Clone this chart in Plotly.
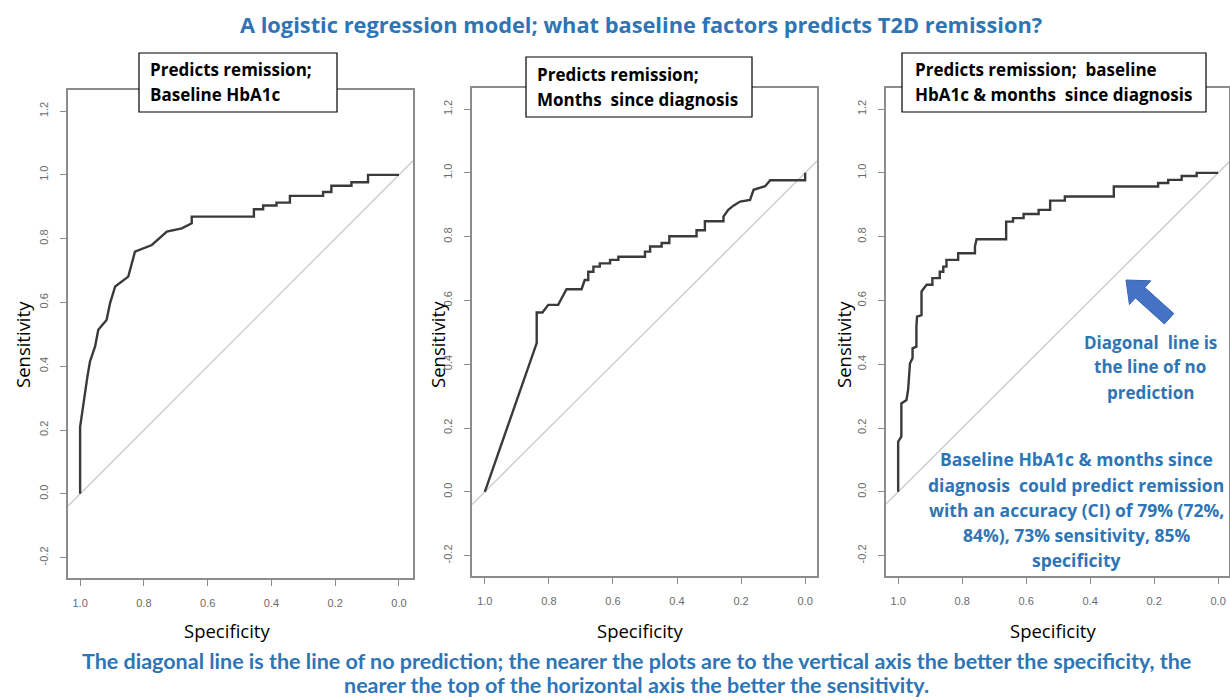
import math
import plotly.graph_objects as go

W, H = 1230, 700
BLUE = '#2E75B6'

# ROC curves (specificity, sensitivity)
spec_hba1c = [1.0, 1.0, 0.977, 0.969, 0.953, 0.943, 0.917, 0.906, 0.890, 0.849, 0.828, 0.775,
              0.728, 0.681, 0.650, 0.650, 0.455, 0.455, 0.426, 0.426, 0.384, 0.384, 0.342,
              0.342, 0.238, 0.238, 0.212, 0.212, 0.149, 0.149, 0.097, 0.097, 0.0]
sens_hba1c = [0.0, 0.21, 0.368, 0.415, 0.462, 0.514, 0.545, 0.598, 0.650, 0.681, 0.759, 0.780,
              0.822, 0.832, 0.848, 0.869, 0.869, 0.892, 0.892, 0.904, 0.904, 0.913, 0.913,
              0.934, 0.934, 0.946, 0.946, 0.966, 0.966, 0.977, 0.977, 1.0, 1.0]

spec_months = [1.0, 0.838, 0.838, 0.820, 0.802, 0.771, 0.745, 0.698, 0.688, 0.677, 0.677, 0.661,
               0.661, 0.641, 0.641, 0.609, 0.609, 0.583, 0.583, 0.500, 0.500, 0.484, 0.484,
               0.448, 0.448, 0.424, 0.424, 0.339, 0.339, 0.313, 0.313, 0.255, 0.255, 0.240,
               0.224, 0.203, 0.172, 0.161, 0.125, 0.109, 0.0, 0.0]
sens_months = [0.0, 0.466, 0.562, 0.562, 0.586, 0.586, 0.635, 0.635, 0.664, 0.664, 0.690, 0.690,
               0.706, 0.706, 0.716, 0.716, 0.727, 0.727, 0.737, 0.737, 0.753, 0.753, 0.769,
               0.769, 0.780, 0.780, 0.801, 0.801, 0.820, 0.820, 0.848, 0.848, 0.863, 0.884,
               0.897, 0.910, 0.915, 0.947, 0.958, 0.977, 0.977, 1.0]

spec_both = [1.0, 1.0, 0.99, 0.99, 0.974, 0.969, 0.963, 0.955, 0.955, 0.943, 0.943, 0.941, 0.927,
             0.927, 0.911, 0.893, 0.893, 0.870, 0.870, 0.859, 0.859, 0.849, 0.849, 0.8125,
             0.8125, 0.760, 0.760, 0.755, 0.6625, 0.6625, 0.641, 0.641, 0.608, 0.608, 0.561,
             0.561, 0.525, 0.525, 0.479, 0.479, 0.326, 0.326, 0.1875, 0.1875, 0.156, 0.156,
             0.114, 0.114, 0.067, 0.067, 0.0]
sens_both = [0.0, 0.157, 0.173, 0.277, 0.288, 0.319, 0.403, 0.419, 0.450, 0.455, 0.518, 0.549,
             0.554, 0.628, 0.649, 0.649, 0.670, 0.670, 0.690, 0.690, 0.706, 0.706, 0.727, 0.727,
             0.748, 0.748, 0.769, 0.792, 0.792, 0.847, 0.847, 0.858, 0.858, 0.871, 0.871, 0.884,
             0.884, 0.913, 0.913, 0.926, 0.926, 0.957, 0.957, 0.968, 0.968, 0.978, 0.978, 0.990,
             0.990, 1.0, 1.0]

x_ticks = [1.0, 0.8, 0.6, 0.4, 0.2, 0.0]
y_ticks = [-0.2, 0.0, 0.2, 0.4, 0.6, 0.8, 1.0, 1.2]

box_titles = [['Predicts remission;', 'Baseline HbA1c'],
              ['Predicts remission;', 'Months  since diagnosis'],
              ['Predicts remission;  baseline', 'HbA1c & months  since diagnosis']]
diag_note = ['Diagonal  line is', 'the line of no', 'prediction']
result_note = ['Baseline HbA1c & months since', 'diagnosis  could predict remission',
               'with an accuracy (CI) of 79% (72%,', '84%), 73% sensitivity, 85%',
               'specificity']
title = 'A logistic regression model; what baseline factors predicts T2D remission?'
footer = ['The diagonal line is the line of no prediction; the nearer the plots are to the vertical axis the better the specificity, the',
          'nearer the top of the horizontal axis the better the sensitivity.']

curves = [(spec_hba1c, sens_hba1c), (spec_months, sens_months), (spec_both, sens_both)]

# panel frames in pixels: left, right, top, bottom
frames = [(68, 413, 90, 578), (472, 817, 88, 576), (886, 1229, 88, 576)]
x_ranges = [[1.038, -0.044], [1.040, -0.037], [1.038, -0.034]]
y_range = [-0.264, 1.266]
boxes = [(139, 337, 53, 112), (526, 752, 57, 117), (902, 1206, 53, 112)]
box_text_x = [148, 535, 913]
box_text_y = [(70, 95), (75, 100), (70, 95)]


def px(x):
    return x / W


def py(y):
    return 1 - y / H


fig = go.Figure()
layout = {}
for i, ((sp, se), (l, r, t, b)) in enumerate(zip(curves, frames)):
    n = '' if i == 0 else str(i + 1)
    xa, ya = 'x' + n, 'y' + n
    # line of no prediction across the whole plot region
    dx = x_ranges[i]
    fig.add_trace(go.Scatter(x=dx, y=[1 - v for v in dx], xaxis=xa, yaxis=ya, mode='lines',
                             line=dict(color='#c9c9c9', width=1.3), showlegend=False,
                             hoverinfo='skip'))
    fig.add_trace(go.Scatter(x=sp, y=se, xaxis=xa, yaxis=ya, mode='lines',
                             line=dict(color='#3a3a3a', width=2.4), showlegend=False))
    axis_common = dict(showgrid=False, zeroline=False, showline=True, mirror=True,
                       linecolor='#8c8c8c', linewidth=1.6, ticks='outside', ticklen=6,
                       tickcolor='#8c8c8c', tickwidth=1.4,
                       tickfont=dict(family='Liberation Sans, Arial', size=11, color='#6a6a6a'))
    layout['xaxis' + n] = dict(axis_common, domain=[px(l), px(r)], range=x_ranges[i],
                               anchor=ya, tickvals=x_ticks,
                               ticktext=[f'{v:.1f}' for v in x_ticks], ticklabelstandoff=8)
    layout['yaxis' + n] = dict(axis_common, domain=[py(b), py(t)], range=y_range,
                               anchor=xa, tickvals=y_ticks,
                               ticktext=[f'{v:.1f}' for v in y_ticks], tickangle=-90,
                               ticklabelstandoff=8)

fig.update_layout(**layout)

shapes = []
ann = []
for i, (bl, br, bt, bb) in enumerate(boxes):
    shapes.append(dict(type='rect', xref='paper', yref='paper', x0=px(bl), x1=px(br),
                       y0=py(bb), y1=py(bt), fillcolor='white', line=dict(color='black', width=1.2),
                       layer='above'))
    for txt, ty in zip(box_titles[i], box_text_y[i]):
        ann.append(dict(text=f'<b>{txt}</b>', x=px(box_text_x[i]), y=py(ty), xref='paper',
                        yref='paper', xanchor='left', yanchor='middle', showarrow=False,
                        font=dict(family='Open Sans', size=17, color='black')))

# axis titles
for cx in [227, 640, 1053]:
    ann.append(dict(text='Specificity', x=px(cx), y=py(630), xref='paper', yref='paper',
                    xanchor='center', yanchor='middle', showarrow=False,
                    font=dict(family='Open Sans', size=18.5, color='black')))
for sx in [22, 437, 843]:
    ann.append(dict(text='Sensitivity', x=px(sx), y=py(345), xref='paper', yref='paper',
                    xanchor='center', yanchor='middle', showarrow=False, textangle=-90,
                    font=dict(family='Open Sans', size=18.5, color='black')))

# title and footer
ann.append(dict(text=f'<b>{title}</b>', x=px(641), y=py(25), xref='paper', yref='paper',
                xanchor='center', yanchor='middle', showarrow=False,
                font=dict(family='Open Sans', size=21.8, color=BLUE)))
for txt, ty in zip(footer, [661, 685]):
    ann.append(dict(text=f'<b>{txt}</b>', x=px(636), y=py(ty), xref='paper', yref='paper',
                    xanchor='center', yanchor='middle', showarrow=False,
                    font=dict(family='Lato', size=21.5, color=BLUE)))

# notes in the third panel
for txt, ty in zip(diag_note, [342, 367, 392]):
    ann.append(dict(text=f'<b>{txt}</b>', x=px(1150), y=py(ty), xref='paper', yref='paper',
                    xanchor='center', yanchor='middle', showarrow=False,
                    font=dict(family='Open Sans', size=17, color=BLUE)))
for txt, ty in zip(result_note, [459, 485, 510, 535, 560]):
    ann.append(dict(text=f'<b>{txt}</b>', x=px(1076), y=py(ty), xref='paper', yref='paper',
                    xanchor='center', yanchor='middle', showarrow=False,
                    font=dict(family='Open Sans', size=17.5, color=BLUE)))

# block arrow pointing at the diagonal (tip, length, head size, shaft half-width in px)
tip_x, tip_y = 1126, 280
length, head_len, head_half, shaft_half = 58, 19, 16, 7
ux, uy = math.cos(math.radians(42)), math.sin(math.radians(42))
nx, ny = -uy, ux
pts = [(0, 0), (head_len, head_half), (head_len, shaft_half), (length, shaft_half),
       (length, -shaft_half), (head_len, -shaft_half), (head_len, -head_half)]
path = ''
for k, (a, s) in enumerate(pts):
    xx = tip_x + a * ux + s * nx
    yy = tip_y + a * uy + s * ny
    path += ('M' if k == 0 else 'L') + f'{px(xx):.5f},{py(yy):.5f} '
shapes.append(dict(type='path', xref='paper', yref='paper', path=path + 'Z',
                   fillcolor='#4472C4', line=dict(color='#3b64b0', width=1)))

fig.update_layout(width=W, height=H, margin=dict(l=0, r=0, t=0, b=0),
                  paper_bgcolor='white', plot_bgcolor='white', showlegend=False,
                  shapes=shapes, annotations=ann)

fig.write_html('out.html', config={'displayModeBar': False},
               post_script="document.body.style.margin='0';")
